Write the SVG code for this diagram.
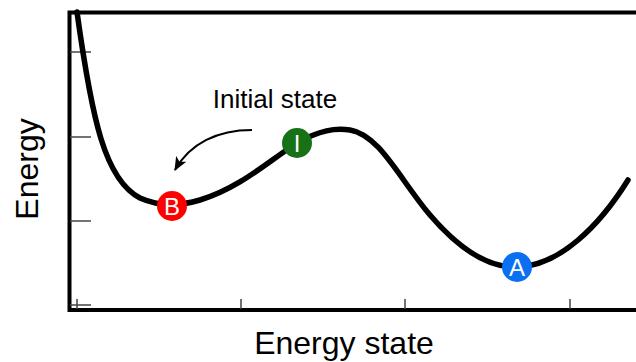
<svg xmlns="http://www.w3.org/2000/svg" width="636" height="362" viewBox="0 0 636 362">
<style>
.axis{stroke:#000;stroke-width:4;fill:none}
.tick{stroke:#444;stroke-width:1.5}
.curve{stroke:#000;stroke-width:5.5;fill:none;stroke-linecap:round}
.lbl{font-family:"Liberation Sans",Arial,sans-serif;fill:#000}
.nodel{font-family:"Liberation Sans",Arial,sans-serif;fill:#fff;font-size:24px;text-anchor:middle}
</style>
<defs>
<marker id="ah" viewBox="0 0 12 10" refX="11" refY="5" markerWidth="14" markerHeight="12" orient="auto" markerUnits="userSpaceOnUse">
<path d="M0,0 L12,5 L0,10 L3,5 Z" fill="#000"/>
</marker>
</defs>
<rect width="636" height="362" fill="#fff"/>
<g id="axes">
<path class="axis" d="M637,12.5 H69.5 V310 H637"/>
<g class="tick">
<line x1="70" y1="52" x2="91" y2="52"/>
<line x1="70" y1="137" x2="91" y2="137"/>
<line x1="70" y1="221" x2="91" y2="221"/>
<line x1="70" y1="305" x2="91" y2="305"/>
<line x1="77" y1="299" x2="77" y2="309"/>
<line x1="241" y1="299" x2="241" y2="309"/>
<line x1="405" y1="299" x2="405" y2="309"/>
<line x1="570" y1="299" x2="570" y2="309"/>
</g>
</g>
<g id="connectors">
<path class="curve" d="M77,12 C92,120 105,180 140,198 C160,207 180,206 200,200 C240,188 270,160 297,143 C320,130 335,128 350,130 C380,135 400,180 430,215 C460,250 490,268 517,267 C560,266 600,225 628,180"/>
<path d="M252,130 C218,130 190,143 175,170" stroke="#000" stroke-width="2" fill="none" marker-end="url(#ah)"/>
</g>
<g id="node-B">
<circle cx="172" cy="206" r="15" fill="#ff0000"/>
<text class="nodel" x="172" y="214.5">B</text>
</g>
<g id="node-I">
<circle cx="297" cy="143" r="15" fill="#177117"/>
<text class="nodel" x="297" y="151.5">I</text>
</g>
<g id="node-A">
<circle cx="517" cy="267" r="15" fill="#0b6ff2"/>
<text class="nodel" x="517" y="275.5">A</text>
</g>
<text class="lbl" x="275" y="108" font-size="26" text-anchor="middle">Initial state</text>
<text class="lbl" x="344" y="354" font-size="32" text-anchor="middle">Energy state</text>
<text class="lbl" transform="translate(38,169) rotate(-90)" font-size="32" text-anchor="middle">Energy</text>
</svg>
